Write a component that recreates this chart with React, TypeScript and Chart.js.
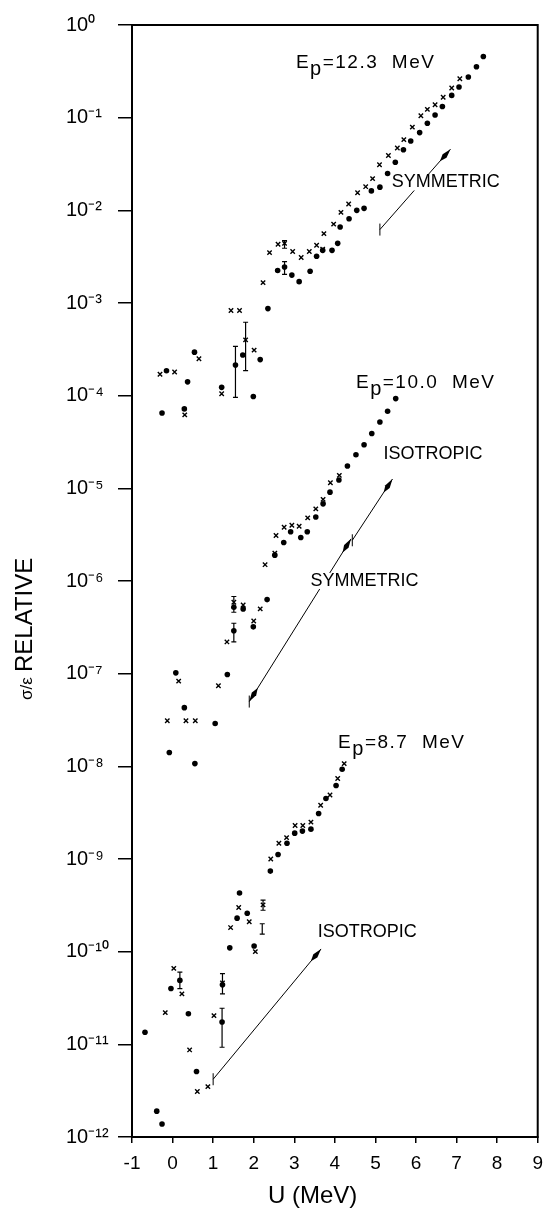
import React, { useEffect, useRef } from 'react';
import { Chart, registerables } from 'chart.js';

Chart.register(...registerables);

const FONT = "'Liberation Sans', Arial, sans-serif";

// Axis ticks
const xTickValues = [-1, 0, 1, 2, 3, 4, 5, 6, 7, 8, 9];
const xTickLabels = ['-1', '0', '1', '2', '3', '4', '5', '6', '7', '8', '9'];
const yTickValues = [1, 1e-1, 1e-2, 1e-3, 1e-4, 1e-5, 1e-6, 1e-7, 1e-8, 1e-9, 1e-10, 1e-11, 1e-12];
const yTickLabels = ['10⁰', '10⁻¹', '10⁻²', '10⁻³', '10⁻⁴', '10⁻⁵', '10⁻⁶', '10⁻⁷', '10⁻⁸', '10⁻⁹', '10⁻¹⁰', '10⁻¹¹', '10⁻¹²'];

// Ep = 12.3 MeV
const u123Dots = [-0.26, -0.15, 0.29, 0.37, 0.54, 1.21, 1.55, 1.73, 1.99, 2.16, 2.35, 2.59, 2.76, 2.94, 3.12, 3.39, 3.55, 3.70, 3.93, 4.07, 4.13, 4.35, 4.54, 4.72, 4.90, 5.11, 5.30, 5.49, 5.69, 5.87, 6.09, 6.28, 6.47, 6.65, 6.88, 7.06, 7.29, 7.49, 7.66];
const v123Dots = [6.5e-5, 1.86e-4, 7.2e-5, 1.41e-4, 2.95e-4, 1.23e-4, 2.14e-4, 2.75e-4, 9.8e-5, 2.45e-4, 8.7e-4, 2.24e-3, 2.45e-3, 2.0e-3, 1.7e-3, 2.2e-3, 3.2e-3, 3.7e-3, 3.7e-3, 4.4e-3, 6.6e-3, 8.1e-3, 1.0e-2, 1.05e-2, 1.62e-2, 1.78e-2, 2.5e-2, 3.3e-2, 4.5e-2, 5.6e-2, 6.9e-2, 8.7e-2, 0.107, 0.132, 0.174, 0.214, 0.275, 0.355, 0.457];
const u123Cross = [-0.31, 0.05, 0.30, 0.65, 1.21, 1.44, 1.65, 1.80, 2.01, 2.23, 2.39, 2.60, 2.76, 2.96, 3.17, 3.37, 3.55, 3.70, 3.73, 3.97, 4.15, 4.34, 4.56, 4.76, 4.93, 5.10, 5.32, 5.54, 5.70, 5.91, 6.12, 6.28, 6.47, 6.67, 6.88, 7.08];
const v123Cross = [1.7e-4, 1.8e-4, 6.2e-5, 2.5e-4, 1.05e-4, 8.3e-4, 8.3e-4, 4.0e-4, 3.1e-4, 1.66e-3, 3.5e-3, 4.3e-3, 4.4e-3, 3.6e-3, 3.1e-3, 3.6e-3, 4.2e-3, 3.8e-3, 5.6e-3, 7.1e-3, 9.5e-3, 1.17e-2, 1.55e-2, 1.8e-2, 2.2e-2, 3.1e-2, 3.9e-2, 4.7e-2, 5.8e-2, 7.9e-2, 0.105, 0.123, 0.138, 0.166, 0.209, 0.263];

// Ep = 10.0 MeV
const u100Dots = [-0.08, 0.08, 0.29, 0.55, 1.05, 1.35, 1.51, 1.51, 1.74, 1.99, 2.33, 2.52, 2.74, 2.91, 3.16, 3.32, 3.53, 3.71, 3.88, 4.10, 4.31, 4.52, 4.72, 4.91, 5.11, 5.30, 5.50];
const v100Dots = [1.41e-8, 1.02e-7, 4.3e-8, 1.07e-8, 2.9e-8, 9.8e-8, 2.9e-7, 5.2e-7, 5.0e-7, 3.2e-7, 6.3e-7, 1.9e-6, 2.6e-6, 3.4e-6, 2.95e-6, 3.4e-6, 4.9e-6, 6.8e-6, 9.1e-6, 1.23e-5, 1.74e-5, 2.3e-5, 2.95e-5, 3.9e-5, 5.2e-5, 6.8e-5, 9.3e-5];
const u100Cross = [-0.13, 0.15, 0.33, 0.56, 1.13, 1.34, 1.51, 1.74, 2.00, 2.16, 2.28, 2.52, 2.55, 2.75, 2.94, 3.12, 3.33, 3.53, 3.71, 3.89, 4.11];
const v100Cross = [3.1e-8, 8.3e-8, 3.1e-8, 3.1e-8, 7.4e-8, 2.2e-7, 5.9e-7, 5.5e-7, 3.7e-7, 5.0e-7, 1.5e-6, 2.0e-6, 3.1e-6, 3.8e-6, 4.0e-6, 3.9e-6, 4.8e-6, 6.0e-6, 7.6e-6, 1.15e-5, 1.38e-5];

// Ep = 8.7 MeV
const u87Dots = [-0.68, -0.39, -0.26, -0.04, 0.18, 0.39, 0.59, 1.22, 1.23, 1.41, 1.59, 1.65, 1.84, 2.01, 2.41, 2.60, 2.82, 3.01, 3.20, 3.41, 3.60, 3.78, 4.03, 4.18];
const v87Dots = [1.35e-11, 1.9e-12, 1.38e-12, 4.0e-11, 4.9e-11, 2.14e-11, 5.1e-12, 1.74e-11, 4.4e-11, 1.1e-10, 2.3e-10, 4.3e-10, 2.6e-10, 1.15e-10, 7.4e-10, 1.12e-9, 1.48e-9, 1.9e-9, 2.0e-9, 2.1e-9, 3.1e-9, 4.5e-9, 6.2e-9, 9.3e-9];
const u87Cross = [-0.18, 0.03, 0.23, 0.42, 0.61, 0.87, 1.02, 1.23, 1.43, 1.63, 1.89, 2.04, 2.23, 2.42, 2.62, 2.81, 3.02, 3.21, 3.41, 3.65, 3.88, 4.07, 4.23];
const v87Cross = [2.2e-11, 6.6e-11, 3.5e-11, 8.7e-12, 3.1e-12, 3.5e-12, 2.04e-11, 4.6e-11, 1.82e-10, 3.0e-10, 2.1e-10, 1.0e-10, 3.2e-10, 1.0e-9, 1.48e-9, 1.7e-9, 2.3e-9, 2.3e-9, 2.5e-9, 3.8e-9, 4.9e-9, 7.4e-9, 1.07e-8];

// Error bars
const errU = [1.55, 1.80, 2.76, 2.76, 1.51, 1.51, 0.18, 1.22, 1.23, 2.23, 2.21];
const errHigh = [3.4e-4, 6.2e-4, 4.7e-3, 2.8e-3, 6.8e-7, 3.5e-7, 6.0e-11, 2.45e-11, 5.8e-11, 3.6e-10, 2.0e-10];
const errLow = [9.6e-5, 1.86e-4, 3.9e-3, 2.04e-3, 4.6e-7, 2.2e-7, 4.0e-11, 9.3e-12, 3.5e-11, 2.8e-10, 1.55e-10];

// Arrows (data coordinates)
const arrowFromU = [5.11, 1.89, 4.43, 1.00];
const arrowFromV = [6.2e-3, 5.0e-8, 2.75e-6, 4.2e-12];
const arrowToU = [6.85, 4.40, 5.42, 3.66];
const arrowToV = [4.57e-2, 2.85e-6, 1.26e-5, 1.07e-10];
const arrowHeadFrom = [false, true, false, false];
const arrowHeadTo = [true, true, true, true];
const arrowTickFrom = [true, true, true, true];

// Text annotations
const labelText = ['SYMMETRIC', 'ISOTROPIC', 'SYMMETRIC', 'ISOTROPIC'];
const labelU = [5.40, 5.20, 3.40, 3.58];
const labelV = [2.0e-2, 2.34e-5, 1.0e-6, 1.62e-10];

const energyText = ['12.3', '10.0', '8.7'];
const energyU = [3.04, 4.52, 4.08];
const energyV = [0.40, 1.41e-4, 1.86e-8];

const pairs = (u: number[], v: number[]) => u.map((x, i) => ({ x, y: v[i] }));

const overlayPlugin = {
  id: 'overlay',
  beforeDatasetsDraw(chart: any) {
    const { ctx, chartArea: a, scales } = chart;
    const xs = scales.x;
    const ys = scales.y;
    const px = (u: number) => xs.getPixelForValue(u);
    const py = (v: number) => ys.getPixelForValue(v);
    ctx.save();
    ctx.strokeStyle = '#000';
    ctx.fillStyle = '#000';

    // frame top and right
    ctx.lineWidth = 2;
    ctx.beginPath();
    ctx.moveTo(a.left - 1, a.top);
    ctx.lineTo(a.right, a.top);
    ctx.lineTo(a.right, a.bottom + 1);
    ctx.stroke();

    // error bars
    ctx.lineWidth = 1.2;
    errU.forEach((u, i) => {
      const x = px(u);
      const y1 = py(errHigh[i]);
      const y2 = py(errLow[i]);
      ctx.beginPath();
      ctx.moveTo(x, y1); ctx.lineTo(x, y2);
      ctx.moveTo(x - 2.5, y1); ctx.lineTo(x + 2.5, y1);
      ctx.moveTo(x - 2.5, y2); ctx.lineTo(x + 2.5, y2);
      ctx.stroke();
    });

    // arrows
    const head = (xa: number, ya: number, xb: number, yb: number) => {
      const ang = Math.atan2(yb - ya, xb - xa);
      ctx.save();
      ctx.translate(xb, yb);
      ctx.rotate(ang);
      ctx.beginPath();
      ctx.moveTo(0, 0);
      ctx.lineTo(-9, -2.6);
      ctx.lineTo(-16, 0);
      ctx.lineTo(-9, 2.6);
      ctx.closePath();
      ctx.fill();
      ctx.restore();
    };
    ctx.lineWidth = 1;
    arrowFromU.forEach((u, i) => {
      const x1 = px(u), y1 = py(arrowFromV[i]);
      const x2 = px(arrowToU[i]), y2 = py(arrowToV[i]);
      ctx.beginPath();
      ctx.moveTo(x1, y1);
      ctx.lineTo(x2, y2);
      ctx.stroke();
      if (arrowTickFrom[i]) {
        ctx.beginPath();
        ctx.moveTo(x1, y1 - 6);
        ctx.lineTo(x1, y1 + 6);
        ctx.stroke();
      }
      if (arrowHeadTo[i]) head(x1, y1, x2, y2);
      if (arrowHeadFrom[i]) head(x2, y2, x1, y1);
    });

    // labels with white backing (interrupt the arrows)
    ctx.font = `18px ${FONT}`;
    ctx.textBaseline = 'middle';
    ctx.textAlign = 'left';
    labelText.forEach((t, i) => {
      const x = px(labelU[i]);
      const y = py(labelV[i]);
      const w = ctx.measureText(t).width;
      ctx.fillStyle = '#fff';
      ctx.fillRect(x + 1, y - 8, w + 2, 16);
      ctx.fillStyle = '#000';
      ctx.fillText(t, x, y);
    });

    // energy labels: E_p = ... MeV
    ctx.textBaseline = 'alphabetic';
    energyText.forEach((t, i) => {
      let x = px(energyU[i]);
      const base = py(energyV[i]) + 6.5;
      ctx.font = `19px ${FONT}`;
      (ctx as any).letterSpacing = '1.5px';
      ctx.fillText('E', x, base);
      x += ctx.measureText('E').width;
      ctx.font = `20px ${FONT}`;
      ctx.fillText('p', x, base + 7);
      x += ctx.measureText('p').width;
      ctx.font = `19px ${FONT}`;
      ctx.fillText('=' + t + '  MeV', x, base);
      (ctx as any).letterSpacing = '0px';
    });

    // axis titles
    ctx.save();
    ctx.translate(32, 700);
    ctx.rotate(-Math.PI / 2);
    ctx.textAlign = 'left';
    ctx.textBaseline = 'alphabetic';
    ctx.font = `17px ${FONT}`;
    ctx.fillText('σ/ε', 0, 0);
    ctx.font = `24px ${FONT}`;
    ctx.fillText('RELATIVE', 28, 0);
    ctx.restore();

    ctx.font = `24px ${FONT}`;
    ctx.textAlign = 'left';
    ctx.fillText('U (MeV)', 268, 1203);

    ctx.restore();
  },
};

export default function App() {
  const canvasRef = useRef<HTMLCanvasElement | null>(null);

  useEffect(() => {
    if (!canvasRef.current) return;
    const dotStyle = {
      pointStyle: 'circle',
      pointRadius: 2.8,
      backgroundColor: '#000',
      borderColor: '#000',
      borderWidth: 0,
      showLine: false,
    };
    const crossStyle = {
      pointStyle: 'crossRot',
      pointRadius: 3.1,
      backgroundColor: '#000',
      borderColor: '#000',
      borderWidth: 1.4,
      showLine: false,
    };
    const chart = new Chart(canvasRef.current, {
      type: 'scatter',
      data: {
        datasets: [
          { label: '12.3 MeV dots', data: pairs(u123Dots, v123Dots), ...dotStyle },
          { label: '12.3 MeV crosses', data: pairs(u123Cross, v123Cross), ...crossStyle },
          { label: '10.0 MeV dots', data: pairs(u100Dots, v100Dots), ...dotStyle },
          { label: '10.0 MeV crosses', data: pairs(u100Cross, v100Cross), ...crossStyle },
          { label: '8.7 MeV dots', data: pairs(u87Dots, v87Dots), ...dotStyle },
          { label: '8.7 MeV crosses', data: pairs(u87Cross, v87Cross), ...crossStyle },
        ] as any,
      },
      options: {
        responsive: false,
        animation: false,
        devicePixelRatio: 1,
        layout: { padding: { left: 66, top: 25, right: 5, bottom: 0 } },
        plugins: {
          legend: { display: false },
          tooltip: { enabled: false },
        },
        scales: {
          x: {
            type: 'linear',
            min: -1,
            max: 9,
            afterBuildTicks: (scale: any) => {
              scale.ticks = xTickValues.map((v) => ({ value: v }));
            },
            afterFit: (scale: any) => {
              scale.height = 74;
            },
            ticks: {
              color: '#000',
              font: { family: FONT, size: 19 },
              padding: 9,
              maxRotation: 0,
              callback: (v: any) => {
                const i = xTickValues.indexOf(Number(v));
                return i >= 0 ? xTickLabels[i] : '';
              },
            },
            grid: { drawOnChartArea: false, drawTicks: true, tickLength: 6, color: '#000', lineWidth: 1.5 },
            border: { display: true, color: '#000', width: 2 },
          },
          y: {
            type: 'logarithmic',
            min: 1e-12,
            max: 1,
            afterBuildTicks: (scale: any) => {
              scale.ticks = yTickValues.map((v) => ({ value: v }));
            },
            afterFit: (scale: any) => {
              scale.width = 66;
            },
            ticks: {
              color: '#000',
              font: { family: FONT, size: 20 },
              crossAlign: 'far',
              autoSkip: false,
              callback: (v: any) => {
                const n = Number(v);
                const i = yTickValues.findIndex((t) => Math.abs(Math.log10(t) - Math.log10(n)) < 1e-6);
                return i >= 0 ? yTickLabels[i] : '';
              },
            },
            grid: { drawOnChartArea: false, drawTicks: true, tickLength: 14, color: '#000', lineWidth: 1.5 },
            border: { display: true, color: '#000', width: 2 },
          },
        },
      } as any,
      plugins: [overlayPlugin],
    });
    return () => chart.destroy();
  }, []);

  return (
    <div style={{ position: 'fixed', left: 0, top: 0, width: 552, height: 1211, background: '#fff' }}>
      <canvas ref={canvasRef} width={552} height={1211} style={{ display: 'block' }} />
    </div>
  );
}
